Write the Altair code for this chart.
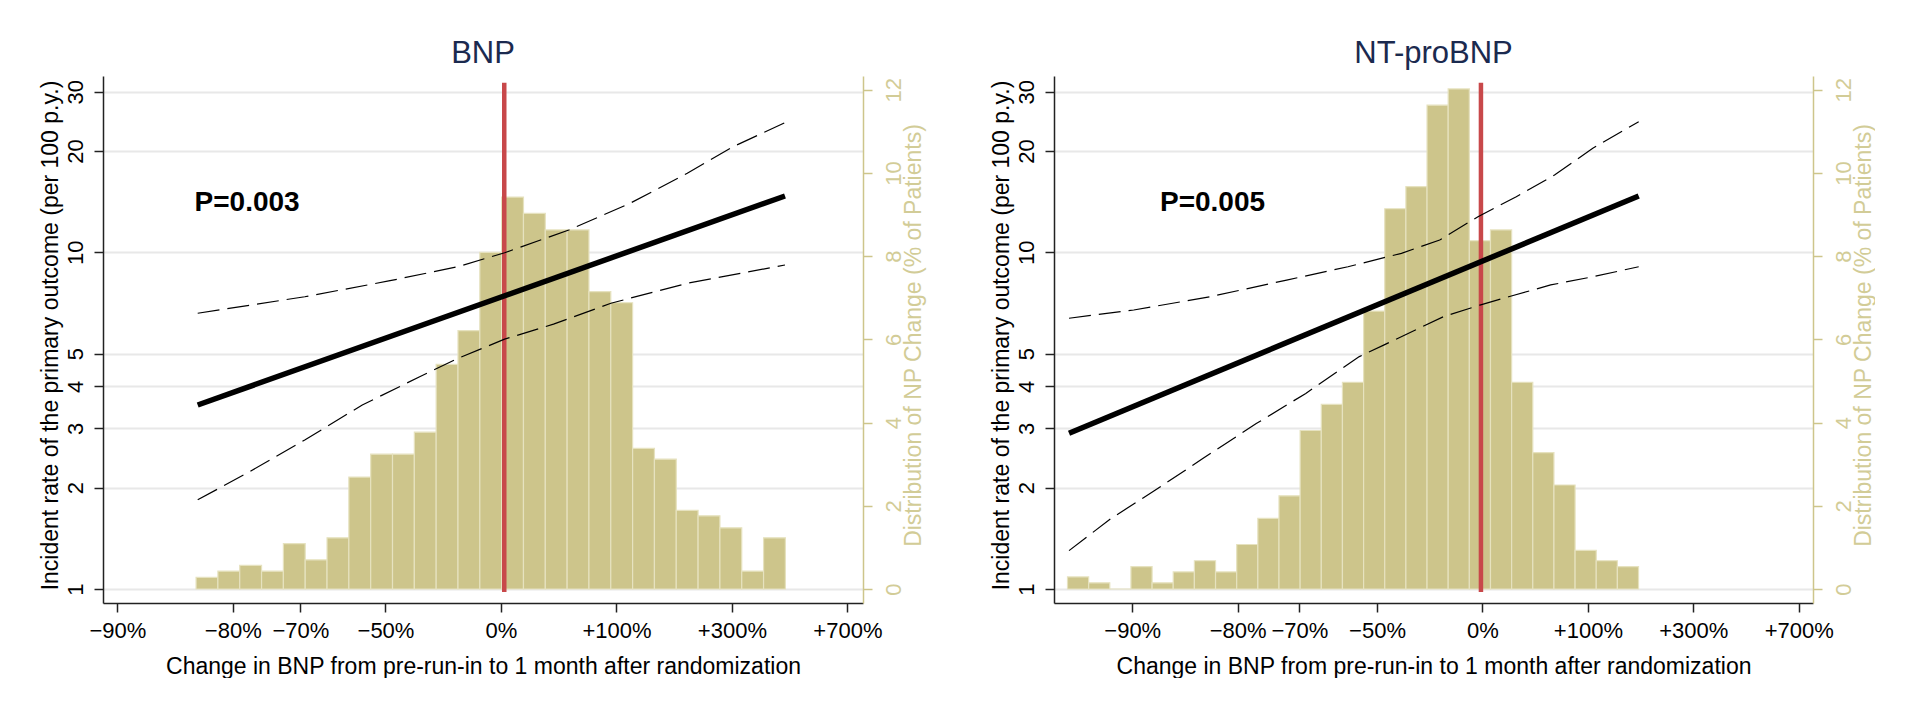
import altair as alt
import pandas as pd
import numpy as np

# ---------------- data ----------------
tick_pct = [-90, -80, -70, -50, 0, 100, 300, 700]
rate_ticks = [1, 2, 3, 4, 5, 10, 20, 30]
dist_ticks = [0, 2, 4, 6, 8, 10, 12]

panel_titles = ["BNP", "NT-proBNP"]
p_labels = ["P=0.003", "P=0.005"]
p_label_pct = [-84.1, -88.0]
p_label_rate = [14.0, 14.0]
ref_pct = [2.0, -1.0]

# x-axis range (log2 fold change)
x_log2_min = [-3.446, -4.064]
x_log2_max = [3.135, 3.135]
rate_domain = [0.9087, 33.39]
dist_domain = [-0.336, 12.33]

# histograms (% of patients), bins equal width in log2 fold change
bnp_bin_start, bnp_bin_width = -2.64, 0.189
bnp_hist = [0.28, 0.43, 0.57, 0.43, 1.09, 0.70, 1.23, 2.69, 3.24, 3.24, 3.77, 5.40, 6.21, 8.09,
            9.42, 9.03, 8.63, 8.63, 7.15, 6.88, 3.38, 3.12, 1.89, 1.76, 1.47, 0.43, 1.23]
nt_bin_start, nt_bin_width = -3.936, 0.2006
nt_hist = [0.29, 0.15, 0.0, 0.54, 0.15, 0.41, 0.68, 0.41, 1.07, 1.70, 2.24, 3.81, 4.44, 4.97,
           6.68, 9.14, 9.67, 11.63, 12.02, 8.37, 8.63, 4.97, 3.28, 2.50, 0.93, 0.68, 0.54]

# fitted incidence rate and 95% CI (per 100 p.y.) vs % change
bnp_fit_pct = [-83.8, 450.0]
bnp_fit_rate = [3.52, 14.70]
bnp_up_pct = [-83.8, -69.2, -49.0, -22.8, 2.2, 50.3, 117.0, 206.0, 303.0, 450.0]
bnp_up_rate = [6.59, 7.38, 8.22, 9.06, 9.97, 11.65, 13.98, 17.17, 20.59, 24.26]
bnp_lo_pct = [-83.8, -78.2, -69.2, -56.5, -38.6, -22.8, 2.2, 37.1, 93.5, 206.0, 450.0]
bnp_lo_rate = [1.84, 2.21, 2.77, 3.52, 4.27, 4.84, 5.52, 6.12, 7.06, 8.09, 9.17]

nt_fit_pct = [-93.4, 179.3]
nt_fit_rate = [2.90, 14.70]
nt_up_pct = [-93.4, -89.9, -83.3, -72.4, -58.7, -41.3, -24.5, -2.9, 24.9, 60.6, 106.5, 179.3]
nt_up_rate = [6.37, 6.74, 7.38, 8.27, 9.06, 9.93, 10.88, 12.76, 14.63, 16.96, 20.37, 24.43]
nt_lo_pct = [-93.4, -91.3, -88.5, -84.1, -77.4, -68.7, -55.5, -47.6, -22.6, -1.7, 18.8, 56.6, 106.5, 179.3]
nt_lo_rate = [1.30, 1.62, 1.95, 2.44, 3.10, 3.81, 4.90, 5.31, 6.44, 6.97, 7.38, 8.00, 8.46, 9.06]

x_title = "Change in BNP from pre-run-in to 1 month after randomization"
y_title = "Incident rate of the primary outcome (per 100 p.y.)"
r_title = "Distribution of NP Change (% of Patients)"

FONT = "Liberation Sans"
KHAKI = "#cdc58b"
KHAKI_TXT = "#d2cc97"
PLOT_H = 527


def ratio(p):
    return 1.0 + np.asarray(p, dtype=float) / 100.0


def panel(i, bin_start, bin_width, hist, fit, up, lo):
    w = 760 if i == 0 else 759
    xs = alt.Scale(type="log", base=2, domain=[2 ** x_log2_min[i], 2 ** x_log2_max[i]], nice=False)
    xaxis = alt.Axis(
        values=[float(v) for v in ratio(tick_pct)],
        labelExpr="datum.value > 0.999 && datum.value < 1.001 ? '0%' : (datum.value > 1 ? '+' : '') + format((datum.value - 1) * 100, '.0f') + '%'",
        title=x_title, titleFontSize=23, titleFontWeight="normal", titlePadding=14,
        labelFontSize=22, labelPadding=8, tickSize=9, tickColor="#222", domainColor="#222",
        domainWidth=1.5, tickWidth=1.5, grid=False, labelColor="black", titleColor="black",
        labelFlush=False, labelOverlap=False,
    )
    laxis = alt.Axis(
        orient="left", values=rate_ticks, title=y_title, titleFontSize=23, titleFontWeight="normal",
        titleColor="black", labelColor="black", labelFontSize=22, labelAngle=270,
        labelAlign="center", labelBaseline="alphabetic", labelPadding=12, tickSize=9,
        tickColor="#222", domainColor="#222", domainWidth=1.5, tickWidth=1.5,
        grid=True, gridColor="#e8e8e8", gridWidth=2, labelFlush=False, labelOverlap=False,
        titleAngle=270, titleAlign="center", titleBaseline="alphabetic", titleX=-46, titleY=259,
    )
    raxis = alt.Axis(
        orient="right", values=dist_ticks, title=r_title, titleFontSize=23, titleFontWeight="normal",
        titleColor=KHAKI_TXT, labelColor=KHAKI_TXT, labelFontSize=22, labelAngle=270,
        labelAlign="center", labelBaseline="top", labelPadding=11, tickSize=9,
        tickColor=KHAKI, domainColor=KHAKI, domainWidth=1.5, tickWidth=1.5, grid=False,
        labelFlush=False, labelOverlap=False,
        titleAngle=270, titleAlign="center", titleBaseline="alphabetic", titleX=57, titleY=259,
    )
    rs = alt.Scale(type="log", domain=rate_domain, nice=False)
    ds = alt.Scale(domain=dist_domain, nice=False, zero=False)

    n = len(hist)
    edges = [bin_start + k * bin_width for k in range(n + 1)]
    hdf = pd.DataFrame({
        "lo": [2 ** e for e in edges[:-1]],
        "hi": [2 ** e for e in edges[1:]],
        "pct": hist,
        "base": [0.0] * n,
    })
    bars = alt.Chart(hdf).mark_rect(fill=KHAKI, stroke="#e6e2bf", strokeWidth=1.2).encode(
        x=alt.X("lo:Q", scale=xs, axis=xaxis),
        x2="hi:Q",
        y=alt.Y("pct:Q", scale=ds, axis=raxis),
        y2="base:Q",
    )
    refdf = pd.DataFrame({"ref": ratio([ref_pct[i]]), "y0": [-0.07], "y1": [12.17]})
    red = alt.Chart(refdf).mark_rule(color="#c8484a", strokeWidth=4.5).encode(
        x=alt.X("ref:Q", scale=xs, axis=xaxis),
        y=alt.Y("y0:Q", scale=ds, axis=raxis),
        y2="y1:Q",
    )

    fdf = pd.DataFrame({"ratio": ratio(fit[0]), "rate": fit[1]})
    cdf = pd.concat([
        pd.DataFrame({"kind": "upper", "ratio": ratio(up[0]), "rate": up[1]}),
        pd.DataFrame({"kind": "lower", "ratio": ratio(lo[0]), "rate": lo[1]}),
    ], ignore_index=True)
    fit_line = alt.Chart(fdf).mark_line(color="black", strokeWidth=5.5).encode(
        x=alt.X("ratio:Q", scale=xs, axis=xaxis),
        y=alt.Y("rate:Q", scale=rs, axis=laxis),
    )
    ci_lines = alt.Chart(cdf).mark_line(color="black", strokeWidth=1.2, strokeDash=[22, 8]).encode(
        x=alt.X("ratio:Q", scale=xs, axis=xaxis),
        y=alt.Y("rate:Q", scale=rs, axis=laxis),
        detail="kind:N",
        order="ratio:Q",
    )
    tdf = pd.DataFrame({"ratio": ratio([p_label_pct[i]]), "rate": [p_label_rate[i]], "label": [p_labels[i]]})
    ptext = alt.Chart(tdf).mark_text(align="left", baseline="middle", fontSize=28, fontWeight="bold",
                                     font=FONT, color="black").encode(
        x=alt.X("ratio:Q", scale=xs, axis=xaxis),
        y=alt.Y("rate:Q", scale=rs, axis=laxis),
        text="label:N",
    )
    return alt.layer(alt.layer(bars, red), alt.layer(ci_lines, fit_line, ptext)).resolve_scale(y="independent").properties(
        width=w, height=PLOT_H,
        title=alt.Title(panel_titles[i], fontSize=31, fontWeight="normal", color="#1b2a4f", font=FONT,
                        anchor="middle", offset=6),
    )


left = panel(0, bnp_bin_start, bnp_bin_width, bnp_hist,
             (bnp_fit_pct, bnp_fit_rate), (bnp_up_pct, bnp_up_rate), (bnp_lo_pct, bnp_lo_rate))
right = panel(1, nt_bin_start, nt_bin_width, nt_hist,
              (nt_fit_pct, nt_fit_rate), (nt_up_pct, nt_up_rate), (nt_lo_pct, nt_lo_rate))

chart = alt.hconcat(left, right, spacing=64).properties(
    padding={"left": 30, "top": 30, "right": 0, "bottom": 0},
    background="white",
).configure(font=FONT).configure_view(stroke=None)

chart.save("out.html", embed_options={"renderer": "svg", "actions": False})
